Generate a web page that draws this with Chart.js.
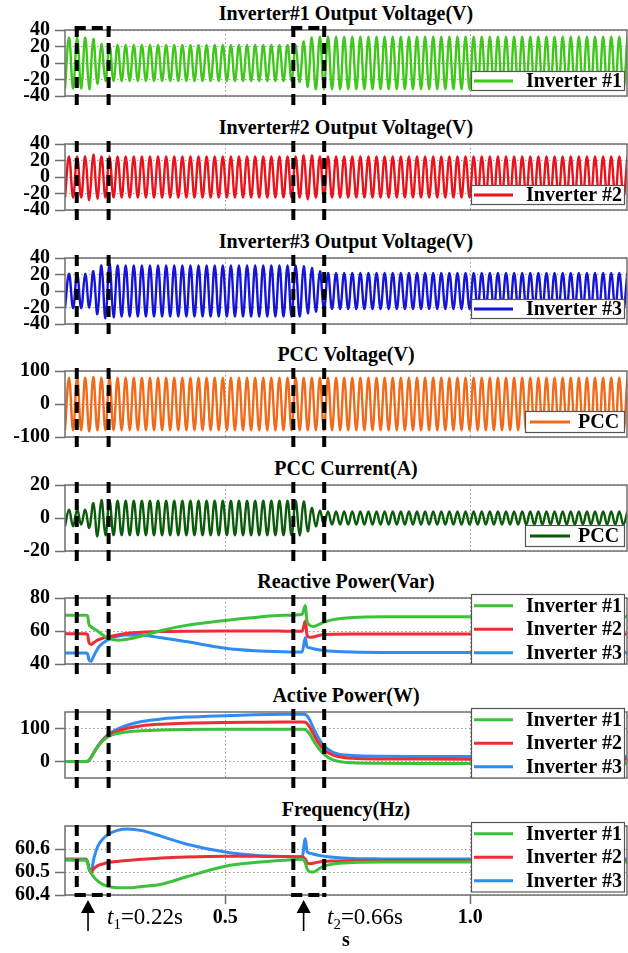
<!DOCTYPE html>
<html>
<head>
<meta charset="utf-8">
<script src="https://cdn.jsdelivr.net/npm/chart.js@4.4.1/dist/chart.umd.min.js"></script>
<style>
  html, body { margin: 0; padding: 0; background: #fff; }
  #stage { position: relative; width: 628px; height: 953px; overflow: hidden; background: #fff; }
  #stage canvas { position: absolute; left: 0; }
  .ttl { position: absolute; left: 65px; width: 562px; height: 24px; line-height: 24px; text-align: center;
         font-family: "Liberation Serif", "Times New Roman", serif; font-weight: bold; font-size: 20px;
         color: #000; white-space: nowrap; }
  .ev { position: absolute; font-family: "Liberation Serif", "Times New Roman", serif; font-size: 23px;
        font-weight: normal; line-height: 24px; color: #000; white-space: nowrap; }
  .ev .sb { font-size: 15px; position: relative; top: 5px; }
</style>
</head>
<body>
<div id="stage"></div>
<script>
// ---- time axis ----
const X_MIN = 0.173, X_MAX = 1.32;
const xTicks = [0.5, 1.0];
const eventTimes = [0.22, 0.66];
const boxStart = [0.197, 0.639];
const boxEnd = [0.262, 0.702];

// ---- waveform panels: peak magnitude of each half cycle (starting at X_MIN) ----
const F_GRID = 60.55;          // grid frequency in Hz
const WAVE_T0 = 0.173;

const inv1Amp = [
  31,31,31,31,31,31,32,29,25,23,
  22,22,22,22,22,22,22,22,22,22,
  22,22,22,22,22,22,22,22,22,22,
  22,22,22,22,22,22,22,22,22,22,
  22,22,22,22,22,22,22,22,22,22,
  22,22,22,22,22,22,22,22,23,26,
  29,31,32,32,32,32,32,32,32,32,
  32,32,32,32,32,32,32,32,32,32,
  32,32,32,32,32,32,32,32,32,32,
  32,32,32,32,32,32,32,32,32,32,
  32,32,32,32,32,32,32,32,32,32,
  32,32,32,32,32,32,32,32,32,32,
  32,32,32,32,32,32,32,32,32,32,
  32,32,32,32,32,32,32,32,32,32
];
const inv2Amp = [
  25,25,25,25,25,25,28,27,26,25,
  25,25,25,25,25,25,25,25,25,25,
  25,25,25,25,25,25,25,25,25,25,
  25,25,25,25,25,25,25,25,25,25,
  25,25,25,25,25,25,25,25,25,25,
  25,25,25,25,25,25,25,25,25,26,
  27,26,25,25,25,25,25,25,25,25,
  25,25,25,25,25,25,25,25,25,25,
  25,25,25,25,25,25,25,25,25,25,
  25,25,25,25,25,25,25,25,25,25,
  25,25,25,25,25,25,25,25,25,25,
  25,25,25,25,25,25,25,25,25,25,
  25,25,25,25,25,25,25,25,25,25,
  25,25,25,25,25,25,25,25,25,25
];
const inv3Amp = [
  21,21,21,21,21,21,20,24,28,31,
  33,33,32,31,31,31,31,31,31,31,
  31,31,31,31,31,31,31,31,31,31,
  31,31,31,31,31,31,31,31,31,31,
  31,31,31,31,31,31,31,31,31,31,
  31,31,31,31,31,31,31,31,31,30,
  27,28,25,24,23,22,22,22,22,22,
  22,22,22,22,22,22,22,22,22,22,
  22,22,22,22,22,22,22,22,22,22,
  22,22,22,22,22,22,22,22,22,22,
  22,22,22,22,22,22,22,22,22,22,
  22,22,22,22,22,22,22,22,22,22,
  22,22,22,22,22,22,22,22,22,22,
  22,22,22,22,22,22,22,22,22,22
];
const pccVAmp = [
  80,80,80,80,80,80,83,82,80,80,
  80,80,80,80,80,80,80,80,80,80,
  80,80,80,80,80,80,80,80,80,80,
  80,80,80,80,80,80,80,80,80,80,
  80,80,80,80,80,80,80,80,80,80,
  80,80,80,80,80,80,80,80,80,80,
  80,80,80,80,80,80,80,80,80,80,
  80,80,80,80,80,80,80,80,80,80,
  80,80,80,80,80,80,80,80,80,80,
  80,80,80,80,80,80,80,80,80,80,
  80,80,80,80,80,80,80,80,80,80,
  80,80,80,80,80,80,80,80,80,80,
  80,80,80,80,80,80,80,80,80,80,
  80,80,80,80,80,80,80,80,80,80
];
const pccIAmp = [
  5,5,5,5,4,5,6,9,11,11,
  10.5,10.5,10.5,10.5,10.5,10.5,10.5,10.5,10.5,10.5,
  10.5,10.5,10.5,10.5,10.5,10.5,10.5,10.5,10.5,10.5,
  10.5,10.5,10.5,10.5,10.5,10.5,10.5,10.5,10.5,10.5,
  10.5,10.5,10.5,10.5,10.5,10.5,10.5,10.5,10.5,10.5,
  10.5,10.5,10.5,10.5,10.5,10.5,10.5,10.5,10.5,10,
  8,6,5,4.5,4,4,4,4,4,4,
  4,4,4,4,4,4,4,4,4,4,
  4,4,4,4,4,4,4,4,4,4,
  4,4,4,4,4,4,4,4,4,4,
  4,4,4,4,4,4,4,4,4,4,
  4,4,4,4,4,4,4,4,4,4,
  4,4,4,4,4,4,4,4,4,4,
  4,4,4,4,4,4,4,4,4,4
];

// ---- power / frequency panels ----
const pqTime = [0.173,0.20,0.216,0.219,0.222,0.226,0.232,0.24,0.25,0.262,0.28,0.30,0.33,0.37,0.42,0.50,0.56,0.62,
                0.657,0.6635,0.667,0.672,0.68,0.69,0.70,0.72,0.76,0.82,0.90,1.00,1.10,1.20,1.32];

const qInv1 = [69.6,69.6,69.6,69.2,64,62.6,61.4,59.9,57.6,55.6,54.4,55,57,60.3,63.4,66.4,68.2,69.5,
               70.2,75.5,66,63.6,62.8,63.8,65.2,66.9,68.2,68.6,68.6,68.6,68.6,68.6,68.6];
const qInv2 = [58.4,58.4,58.4,57.8,53,51.8,53,54.6,55.6,56.4,57.6,58.6,59.3,59.7,59.9,60,60,59.9,
               59.8,66,57.6,56.2,56.4,57.2,57.7,58,58.2,58.2,58.2,58.2,58.2,58.2,58.2];
const qInv3 = [46.7,46.7,46.7,46.3,42.5,41.6,45,49.5,52.6,54.8,56.8,57.6,57.4,55.9,53.6,49.6,48.1,47.4,
               47.2,56,50.3,49.8,49.2,48.6,48.2,47.7,47.2,47,47,47,47,47,47];

const pInv1 = [0,0,0,0,4,12,27,45,62,76,85,89.5,93,95.3,96.7,97.6,98,98,
               98,97,93,84,64,41,24,5,-4,-5.6,-6,-6,-6,-6,-6];
const pInv2 = [0,0,0,0,4,12,27,46,64,80,92,101,108.5,113,116,118.2,119,119.5,
               119.5,118.8,115,105,83,57,38,19,9.5,7.6,7.2,7,7,7,7];
const pInv3 = [0,0,0,0,4,12,28,47,66,83,98,110,121,129,134.5,139,141.5,143,
               143.5,142.5,138,127,101,72,50,28,18,15.8,15.2,15,15,15,15];

const fInv1 = [60.552,60.552,60.552,60.54,60.515,60.497,60.478,60.46,60.446,60.437,60.432,60.431,60.437,60.447,60.478,60.525,60.541,60.551,
               60.555,60.54,60.515,60.502,60.5,60.512,60.524,60.535,60.541,60.543,60.543,60.543,60.543,60.543,60.543];
const fInv2 = [60.553,60.553,60.553,60.54,60.515,60.498,60.515,60.528,60.535,60.541,60.546,60.55,60.555,60.561,60.565,60.568,60.568,60.567,
               60.565,60.556,60.54,60.536,60.538,60.543,60.546,60.548,60.549,60.549,60.549,60.549,60.549,60.549,60.549];
const fInv3 = [60.556,60.556,60.556,60.545,60.518,60.497,60.56,60.612,60.643,60.664,60.681,60.687,60.68,60.655,60.622,60.587,60.573,60.567,
               60.566,60.645,60.59,60.582,60.578,60.573,60.569,60.564,60.559,60.557,60.556,60.556,60.556,60.556,60.556];

// ---- y tick sets ----
const voltTicks = [-40, -20, 0, 20, 40];
const pccVTicks = [-100, 0, 100];
const pccITicks = [-20, 0, 20];
const qTicks = [40, 60, 80];
const pTicks = [0, 100];
const fTicks = [60.4, 60.5, 60.6];

const COLORS = {
  inv1v: '#3fc71b', inv2v: '#e8131b', inv3v: '#1515d6',
  pccV: '#f06a1a', pccI: '#0a5c0a',
  g: '#3cc23a', r: '#ee2d37', b: '#2f8cf0'
};
const SERIF = '"Liberation Serif", "Times New Roman", serif';

function toWave(amps) {
  const half = 1 / (2 * F_GRID);
  return amps.map((a, k) => ({ x: WAVE_T0 + k * half, y: k % 2 ? a : -a }));
}
function toXY(ys) {
  return ys.map((v, i) => ({ x: pqTime[i], y: v }));
}

// ---- plugins ----
const framePlugin = {
  id: 'frame',
  afterDatasetsDraw(chart) {
    const { ctx, chartArea: a } = chart;
    ctx.save();
    ctx.strokeStyle = '#707070';
    ctx.lineWidth = 1.5;
    ctx.strokeRect(a.left, a.top, a.right - a.left, a.bottom - a.top);
    ctx.restore();
  }
};

const legendPlugin = {
  id: 'panelLegend',
  afterDatasetsDraw(chart, args, o) {
    if (!o || !o.place) return;
    const { ctx, chartArea: a } = chart;
    const items = chart.data.datasets;
    const h = o.rowH * items.length;
    const top = o.place === 'top' ? a.top - o.offset : a.bottom - o.offset - h;
    ctx.save();
    ctx.fillStyle = '#fff';
    ctx.fillRect(o.left, top, o.right - o.left, h);
    ctx.strokeStyle = '#555';
    ctx.lineWidth = 1.2;
    ctx.strokeRect(o.left + 0.5, top + 0.5, o.right - o.left - 1, h - 1);
    items.forEach((ds, i) => {
      const cy = top + o.rowH * (i + 0.5);
      ctx.strokeStyle = ds.borderColor;
      ctx.lineWidth = 3;
      ctx.beginPath();
      ctx.moveTo(o.left + o.lineFrom, cy);
      ctx.lineTo(o.left + o.lineTo, cy);
      ctx.stroke();
      ctx.fillStyle = '#000';
      ctx.font = 'bold 20px ' + SERIF;
      ctx.textBaseline = 'middle';
      ctx.textAlign = 'left';
      ctx.fillText(ds.label, o.left + o.textX, cy + 1);
    });
    ctx.restore();
  }
};

const boxPlugin = {
  id: 'eventBoxes',
  afterDraw(chart, args, o) {
    if (!o || !o.show) return;
    const { ctx, chartArea: a, scales: { x } } = chart;
    const y0 = a.top - o.extTop, y1 = a.bottom + o.extBottom;
    ctx.save();
    ctx.strokeStyle = '#000';
    ctx.lineWidth = 4;
    ctx.setLineDash([11, 6]);
    boxStart.forEach((t0, i) => {
      const xl = x.getPixelForValue(t0), xr = x.getPixelForValue(boxEnd[i]);
      [xl, xr].forEach(px => {
        ctx.beginPath(); ctx.moveTo(px, y0); ctx.lineTo(px, y1); ctx.stroke();
      });
      if (o.topEdge) {
        ctx.beginPath(); ctx.moveTo(xl - 2, a.top - 2); ctx.lineTo(xr + 2, a.top - 2); ctx.stroke();
      }
      if (o.bottomEdge) {
        ctx.beginPath(); ctx.moveTo(xl - 2, a.bottom); ctx.lineTo(xr + 2, a.bottom); ctx.stroke();
      }
    });
    ctx.restore();
  }
};

const arrowPlugin = {
  id: 'eventArrows',
  afterDraw(chart, args, o) {
    if (!o || !o.show) return;
    const { ctx, chartArea: a, scales: { x } } = chart;
    ctx.save();
    ctx.fillStyle = '#000';
    ctx.strokeStyle = '#000';
    ctx.lineWidth = 1.6;
    eventTimes.forEach(t => {
      const px = x.getPixelForValue(t);
      const tip = a.bottom + 5, base = tip + 13, tail = a.bottom + 36;
      ctx.beginPath(); ctx.moveTo(px, base - 1); ctx.lineTo(px, tail); ctx.stroke();
      ctx.beginPath(); ctx.moveTo(px, tip); ctx.lineTo(px - 7, base); ctx.lineTo(px + 7, base); ctx.closePath(); ctx.fill();
    });
    ctx.restore();
  }
};

// ---- panel layout ----
const wideOne = { place: 'bottom', left: 471, right: 625, rowH: 20, offset: 5, lineFrom: 3, lineTo: 42, textX: 55 };
const pccOne = { place: 'bottom', left: 525, right: 625, rowH: 22, offset: 4, lineFrom: 5, lineTo: 45, textX: 53 };
const wideThree = { place: 'top', left: 471, right: 625, rowH: 23.5, offset: 4, lineFrom: 3, lineTo: 42, textX: 55 };

function wave(label, color, amps) {
  return { label, borderColor: color, borderWidth: 2.4, data: toWave(amps), tension: 0.4, pointRadius: 0, fill: false };
}
function smooth(label, color, ys) {
  return { label, borderColor: color, borderWidth: 3, data: toXY(ys), cubicInterpolationMode: 'monotone', pointRadius: 0, fill: false };
}

const panels = [
  { title: 'Inverter#1 Output Voltage(V)', plotTop: 27, yMin: -40, yMax: 40, yTicks: voltTicks, legend: wideOne,
    datasets: [wave('Inverter #1', COLORS.inv1v, inv1Amp)] },
  { title: 'Inverter#2 Output Voltage(V)', plotTop: 141, yMin: -40, yMax: 40, yTicks: voltTicks, legend: wideOne,
    datasets: [wave('Inverter #2', COLORS.inv2v, inv2Amp)] },
  { title: 'Inverter#3 Output Voltage(V)', plotTop: 255, yMin: -40, yMax: 40, yTicks: voltTicks, legend: wideOne,
    datasets: [wave('Inverter #3', COLORS.inv3v, inv3Amp)] },
  { title: 'PCC Voltage(V)', plotTop: 368, yMin: -100, yMax: 100, yTicks: pccVTicks, legend: pccOne,
    datasets: [wave('PCC', COLORS.pccV, pccVAmp)] },
  { title: 'PCC Current(A)', plotTop: 482, yMin: -20, yMax: 20, yTicks: pccITicks, legend: pccOne,
    datasets: [wave('PCC', COLORS.pccI, pccIAmp)] },
  { title: 'Reactive Power(Var)', plotTop: 595, yMin: 40, yMax: 80, yTicks: qTicks, legend: wideThree,
    datasets: [smooth('Inverter #1', COLORS.g, qInv1), smooth('Inverter #2', COLORS.r, qInv2), smooth('Inverter #3', COLORS.b, qInv3)] },
  { title: 'Active Power(W)', plotTop: 709, yMin: -50, yMax: 150, yTicks: pTicks, legend: wideThree,
    datasets: [smooth('Inverter #1', COLORS.g, pInv1), smooth('Inverter #2', COLORS.r, pInv2), smooth('Inverter #3', COLORS.b, pInv3)] },
  { title: 'Frequency(Hz)', plotTop: 823, yMin: 60.4, yMax: 60.7, yTicks: fTicks, legend: wideThree, yFmt: v => v.toFixed(1),
    datasets: [smooth('Inverter #1', COLORS.g, fInv1), smooth('Inverter #2', COLORS.r, fInv2), smooth('Inverter #3', COLORS.b, fInv3)] }
];

const PAD = 14, PLOT_H = 72, STAGE_H = 953;
const stage = document.getElementById('stage');
const tickFont = { family: SERIF, size: 20, weight: 'bold' };

panels.forEach((p, i) => {
  const first = i === 0, last = i === panels.length - 1;
  const canvasTop = p.plotTop - PAD;
  const canvasH = last ? STAGE_H - canvasTop : PLOT_H + 2 * PAD;
  const xAxisH = last ? canvasH - PAD - PLOT_H : 0;

  const ttl = document.createElement('div');
  ttl.className = 'ttl';
  ttl.style.top = (p.plotTop - 26) + 'px';
  ttl.textContent = p.title;
  stage.appendChild(ttl);

  const cv = document.createElement('canvas');
  cv.width = 628; cv.height = canvasH;
  cv.style.top = canvasTop + 'px';
  cv.style.width = '628px'; cv.style.height = canvasH + 'px';
  stage.appendChild(cv);

  new Chart(cv, {
    type: 'line',
    data: { datasets: p.datasets },
    options: {
      responsive: false, animation: false, devicePixelRatio: 1,
      layout: { padding: { top: PAD, bottom: last ? 0 : PAD, left: 0, right: 1 } },
      plugins: {
        legend: { display: false }, tooltip: { enabled: false }, title: { display: false },
        panelLegend: p.legend,
        eventBoxes: { show: true, extTop: first ? 4 : (last ? 1 : 3), extBottom: last ? 2 : 12, topEdge: first, bottomEdge: last },
        eventArrows: { show: last }
      },
      scales: {
        x: {
          type: 'linear', min: X_MIN, max: X_MAX,
          afterBuildTicks: s => { s.ticks = xTicks.map(v => ({ value: v })); },
          afterFit: s => { s.height = xAxisH; },
          ticks: { display: last, font: tickFont, color: '#000', padding: 1.5, maxRotation: 0, autoSkip: false,
                   callback: v => Number(v).toFixed(1) },
          grid: { color: '#9a9a9a', lineWidth: 1, drawTicks: last, tickLength: 9, tickColor: '#6e6e6e', tickWidth: 1.5 },
          border: { display: false, dash: [1.5, 2.5] },
          title: { display: last, text: 's', color: '#000', font: { family: SERIF, size: 20, weight: 'bold' },
                   padding: { top: 0, bottom: 0 } }
        },
        y: {
          type: 'linear', min: p.yMin, max: p.yMax,
          afterBuildTicks: s => { s.ticks = p.yTicks.map(v => ({ value: v })); },
          afterFit: s => { s.width = 65; },
          ticks: { font: tickFont, color: '#000', padding: 5, autoSkip: false,
                   callback: v => p.yFmt ? p.yFmt(v) : String(v) },
          grid: { color: '#9a9a9a', lineWidth: 1, tickLength: 10, tickColor: '#6e6e6e', tickWidth: 1.5 },
          border: { display: false, dash: [1.5, 2.5] }
        }
      }
    },
    plugins: [framePlugin, legendPlugin, boxPlugin, arrowPlugin]
  });
});

// event annotations under the last panel
[
  { left: 107, sub: '1', text: '=0.22s' },
  { left: 327, sub: '2', text: '=0.66s' }
].forEach(e => {
  const d = document.createElement('div');
  d.className = 'ev';
  d.style.left = e.left + 'px';
  d.style.top = '905px';
  d.innerHTML = '<i>t</i><span class="sb">' + e.sub + '</span>' + e.text;
  stage.appendChild(d);
});
</script>
</body>
</html>
